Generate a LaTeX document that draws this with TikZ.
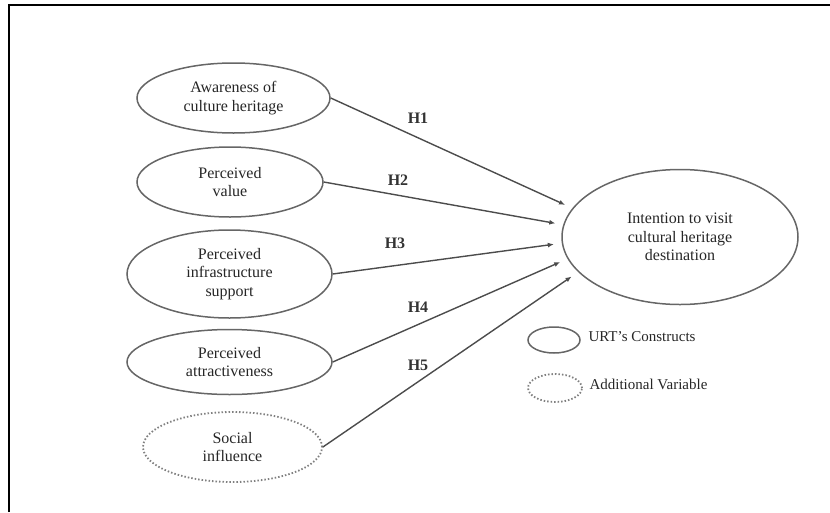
\documentclass[tikz,border=0pt]{standalone}
\usepackage{fontspec}
\setmainfont{Liberation Serif}
\usetikzlibrary{shapes.geometric,arrows.meta}

\begin{document}
\begin{tikzpicture}[x=1pt,y=-1pt]
    \tikzset{Construct/.style={ellipse, draw=black!60, line width=1.5pt,
        inner sep=0pt, align=center, text=black!85,
        font=\fontsize{16}{18.5}\selectfont}}
    \tikzset{Extra/.style={Construct, draw=black!50, dotted, line width=1.8pt}}
    \tikzset{Path/.style={draw=black!70, line width=1.4pt,
        -{Latex[length=6pt,width=5pt]}, shorten >=8pt}}
    \tikzset{HLabel/.style={text=black!80, font=\fontsize{16}{18}\selectfont\bfseries}}
    \tikzset{Legend/.style={anchor=west, text=black!85, font=\fontsize{15}{17}\selectfont}}
    \useasboundingbox (0,0) rectangle (830,512);
    % frame of the figure
    \draw[line width=2pt] (8.5,512) -- (8.5,4.5) -- (830,4.5);
    % constructs
    \node[Construct, minimum width=193pt, minimum height=70pt] (Aware) at (233.5,98) {Awareness of\\culture heritage};
    \node[Construct, minimum width=186pt, minimum height=70pt] (Value) at (230,182) {Perceived\\value};
    \node[Construct, minimum width=205pt, minimum height=88pt] (Infra) at (229.5,274) {Perceived\\infrastructure\\support};
    \node[Construct, minimum width=205pt, minimum height=65pt] (Attract) at (229.5,362) {Perceived\\attractiveness};
    \node[Extra, minimum width=179pt, minimum height=70pt] (Social) at (232.5,447) {Social\\influence};
    \node[Construct, minimum width=236pt, minimum height=135pt] (Intent) at (680,237) {Intention to visit\\cultural heritage\\destination};
    % hypotheses
    \draw[Path] (Aware.east) -- (Intent.165);
    \draw[Path] (Value.east) -- (Intent.174);
    \draw[Path] (Infra.east) -- (Intent.183);
    \draw[Path] (Attract.east) -- (Intent.191);
    \draw[Path] (Social.east) -- (Intent.199);
    \node[HLabel] (H1) at (418,118) {H1};
    \node[HLabel] (H2) at (398,180) {H2};
    \node[HLabel] (H3) at (395,243) {H3};
    \node[HLabel] (H4) at (418,307) {H4};
    \node[HLabel] (H5) at (418,365) {H5};
    % legend
    \node[Construct, minimum width=52pt, minimum height=26pt] (KeyURT) at (554,340) {};
    \node[Extra, minimum width=54pt, minimum height=28pt] (KeyAdd) at (555,388) {};
    \node[Legend] (TxtURT) at (585,337) {URT’s Constructs};
    \node[Legend] (TxtAdd) at (586,384) {Additional Variable};
\end{tikzpicture}
\end{document}
